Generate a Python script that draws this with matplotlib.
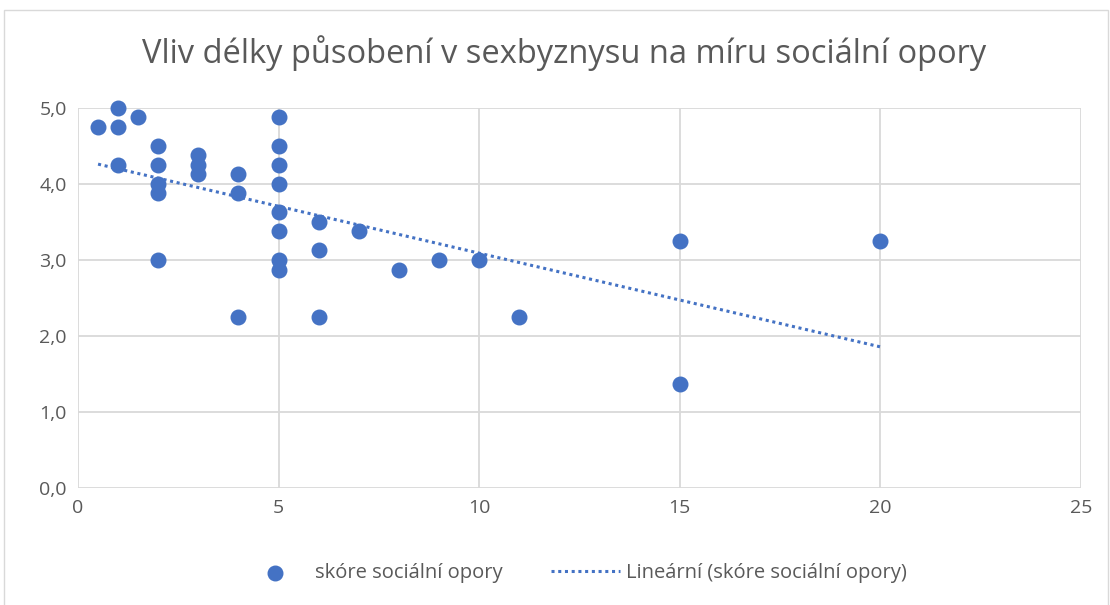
"""
Scatter of social support score vs. years in sex business, with linear trend
"""
import numpy as np
import matplotlib.pyplot as plt
from matplotlib.patches import Rectangle

# Data
years = [0.5, 1, 1, 1.5, 1, 2, 2, 2, 2, 2, 3, 3, 3, 4, 4, 4,
         5, 5, 5, 5, 5, 5, 5, 5, 6, 6, 6, 7, 8, 9, 10, 11, 15, 15, 20]
score = [4.75, 5.0, 4.75, 4.875, 4.25, 4.5, 4.25, 4.0, 3.875, 3.0,
         4.375, 4.25, 4.125, 4.125, 3.875, 2.25,
         4.875, 4.5, 4.25, 4.0, 3.625, 3.375, 3.0, 2.875,
         3.5, 3.125, 2.25, 3.375, 2.875, 3.0, 3.0, 2.25, 3.25, 1.375, 3.25]
x_ticks = [0, 5, 10, 15, 20, 25]
y_ticks = [0, 1, 2, 3, 4, 5]

title = "Vliv délky působení v sexbyznysu na míru sociální opory"
series_label = "skóre sociální opory"
trend_label = "Lineární (skóre sociální opory)"

BLUE = '#4472c4'
GRID = '#d9d9d9'
TEXT = '#595959'
plt.rcParams['font.family'] = ['Open Sans', 'DejaVu Sans']

fig = plt.figure(figsize=(11.1, 6.05), dpi=100)
ax = fig.add_axes([78 / 1110, 117 / 605, 1003 / 1110, 380 / 605])

# Outer chart border
fig.patches.append(Rectangle((4 / 1110, -0.01), 1104 / 1110, 1 - 10 / 605 + 0.01,
                             transform=fig.transFigure, fill=False,
                             edgecolor=GRID, linewidth=1))

ax.scatter(years, score, s=110, color=BLUE, zorder=3, label=series_label,
           clip_on=False)

# Linear trend line (least squares)
slope, intercept = np.polyfit(years, score, 1)
xs = np.array([min(years), max(years)])
ax.plot(xs, slope * xs + intercept, color=BLUE, linestyle=(0, (1, 1.2)),
        linewidth=2.2, zorder=2, label=trend_label)

ax.set_xlim(0, 25)
ax.set_ylim(0, 5)
ax.set_xticks(x_ticks)
ax.set_yticks(y_ticks)
ax.set_yticklabels([f"{v:.1f}".replace('.', ',') for v in y_ticks])
ax.grid(True, color=GRID, linewidth=1.3, zorder=0)
ax.set_axisbelow(True)
for side in ['top', 'right', 'left', 'bottom']:
    ax.spines[side].set_visible(False)
ax.tick_params(length=0, labelsize=14, colors=TEXT, pad=8)

fig.text(0.508, 1 - 53 / 605, title, ha='center', va='center',
         fontsize=23.5, color=TEXT)

fig.legend(loc='center', bbox_to_anchor=(0.517, 1 - 573 / 605), ncol=2,
           frameon=False, fontsize=14.5, labelcolor=TEXT, handlelength=3.4,
           handletextpad=0.3, columnspacing=2.4)

fig.savefig('out.png', dpi=100)
